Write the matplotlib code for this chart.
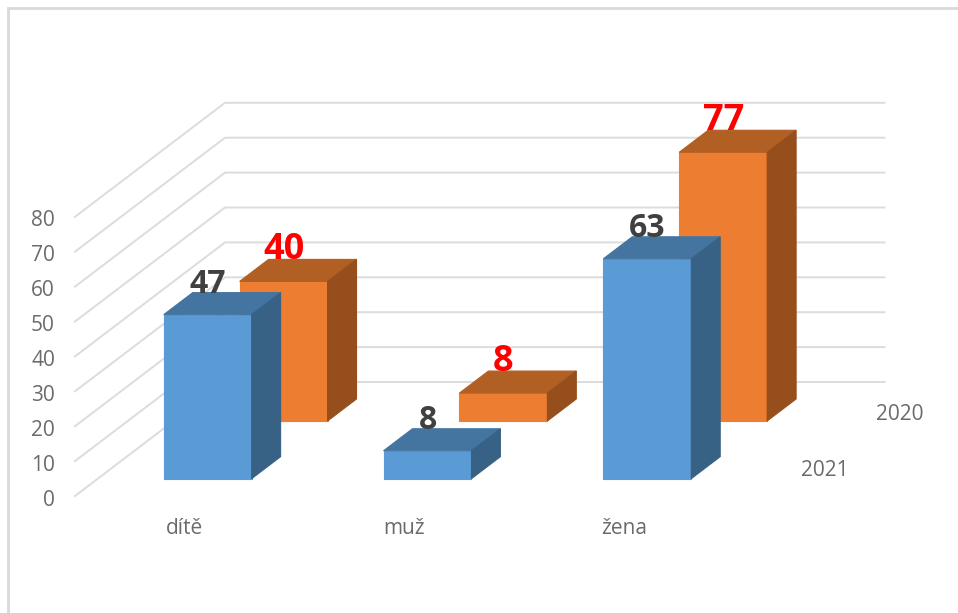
import matplotlib
matplotlib.use('Agg')
import matplotlib.pyplot as plt
from matplotlib.patches import Polygon

plt.rcParams['font.family'] = ['Open Sans', 'DejaVu Sans']

categories = ['dítě', 'muž', 'žena']
series_names = ['2020', '2021']
values_2020 = [40, 8, 77]
values_2021 = [47, 8, 63]
y_ticks = [0, 10, 20, 30, 40, 50, 60, 70, 80]

# oblique projection of the 3d chart box, in image pixels
x0, y0 = 75, 496
band = 219.8
px_per_unit = 3.49
depth_dx, depth_dy = 150, -114
bar_w = 0.4
# front and back of each series row, 0 = front of box, 1 = back wall
rows = {'2021': (0.152, 0.345), '2020': (0.658, 0.851)}


def proj(cat, depth, val):
    return (x0 + cat * band + depth * depth_dx, y0 + depth * depth_dy - val * px_per_unit)


fig = plt.figure(figsize=(9.58, 6.13), dpi=100)
ax = fig.add_axes([0, 0, 1, 1])
ax.set_xlim(0, 958)
ax.set_ylim(613, 0)
ax.axis('off')

# chart frame, only left and top are visible
ax.plot([8, 8, 958], [613, 8, 8], color='#d9d9d9', lw=2, solid_joinstyle='miter', zorder=1)

n = len(categories)
for t in y_ticks:
    a = proj(0, 0, t)
    b = proj(0, 1, t)
    c = proj(n, 1, t)
    ax.plot([a[0], b[0], c[0]], [a[1], b[1], c[1]], color='#dcdcdc', lw=1.4, zorder=2)
    ax.text(a[0] - 20, a[1] + 4, str(t), ha='right', va='center', fontsize=15, color='#6b6b6b', zorder=2)


def draw_bar(cat, d0, d1, val, front, top, side, z):
    left = cat + (1 - bar_w) / 2
    right = left + bar_w
    ax.add_patch(Polygon([proj(left, d0, 0), proj(right, d0, 0), proj(right, d0, val), proj(left, d0, val)],
                         fc=front, ec=front, lw=0.8, zorder=z))
    ax.add_patch(Polygon([proj(left, d0, val), proj(right, d0, val), proj(right, d1, val), proj(left, d1, val)],
                         fc=top, ec=top, lw=0.8, zorder=z))
    ax.add_patch(Polygon([proj(right, d0, 0), proj(right, d1, 0), proj(right, d1, val), proj(right, d0, val)],
                         fc=side, ec=side, lw=0.8, zorder=z))


# back row first so the front row covers it
for i, v in enumerate(values_2020):
    d0, d1 = rows['2020']
    draw_bar(i, d0, d1, v, '#ed7d31', '#b25f24', '#964f1c', 3)
    lx = proj(i + 0.5, d0, v)[0]
    ly = proj(i + 0.5, d1, v)[1]
    ax.text(lx, ly, str(v), ha='center', va='baseline', fontsize=26, fontweight='bold', color='#ff0000', zorder=4)

for i, v in enumerate(values_2021):
    d0, d1 = rows['2021']
    draw_bar(i, d0, d1, v, '#5b9bd5', '#4474a0', '#386285', 5)
    lx = proj(i + 0.5, d0, v)[0]
    ly = proj(i + 0.5, d1, v)[1]
    ax.text(lx, ly, str(v), ha='center', va='baseline', fontsize=23, fontweight='bold', color='#404040', zorder=6)

# category labels sit under the front row
for i, c in enumerate(categories):
    lx = proj(i + (1 - bar_w) / 2, rows['2021'][0], 0)[0]
    ax.text(lx + 21, 529, c, ha='center', va='center', fontsize=15, color='#6b6b6b')

# series labels
ax.text(proj(n, rows['2021'][0], 0)[0] + 68, 470, series_names[1], ha='center', va='center', fontsize=15, color='#6b6b6b')
ax.text(proj(n, rows['2020'][0], 0)[0] + 67, 414, series_names[0], ha='center', va='center', fontsize=15, color='#6b6b6b')

fig.savefig('out.png', dpi=100)
